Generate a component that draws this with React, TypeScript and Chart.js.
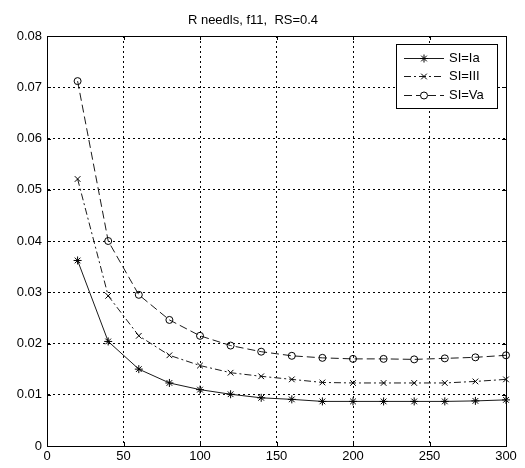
import React, { useEffect, useRef } from "react";
import { Chart, registerables } from "chart.js";
import { drawPoint } from "chart.js/helpers";

Chart.register(...registerables);

const xValues = [20, 40, 60, 80, 100, 120, 140, 160, 180, 200, 220, 240, 260, 280, 300];
const seriesIa = [0.0362, 0.0204, 0.0150, 0.0123, 0.0110, 0.0101, 0.0094, 0.0091, 0.0087, 0.0087, 0.0087, 0.0087, 0.0087, 0.0088, 0.0090];
const seriesIII = [0.0521, 0.0293, 0.0215, 0.0177, 0.0157, 0.0143, 0.0136, 0.0130, 0.0124, 0.0123, 0.0123, 0.0123, 0.0123, 0.0126, 0.0130];
const seriesVa = [0.0712, 0.0400, 0.0295, 0.0246, 0.0215, 0.0196, 0.0184, 0.0176, 0.0172, 0.0170, 0.0170, 0.0169, 0.0171, 0.0173, 0.0177];
const seriesNames = ["SI=Ia", "SI=III", "SI=Va"];
const titleText = "R needls, f11,  RS=0.4";

const FONT = "'Liberation Sans', Arial, Helvetica, sans-serif";

const boxPlugin = {
  id: "boxPlugin",
  afterDatasetsDraw(chart: any) {
    const { ctx, chartArea } = chart;
    const { left, right, top, bottom } = chartArea;
    ctx.save();
    ctx.strokeStyle = "#000";
    ctx.lineWidth = 1;
    ctx.setLineDash([]);
    ctx.strokeRect(Math.round(left) + 0.5, Math.round(top) + 0.5, Math.round(right - left), Math.round(bottom - top));
    const xs = chart.scales.x;
    const ys = chart.scales.y;
    const tl = 4;
    ctx.beginPath();
    xs.ticks.forEach((t: any) => {
      const px = Math.round(xs.getPixelForValue(t.value)) + 0.5;
      ctx.moveTo(px, bottom);
      ctx.lineTo(px, bottom - tl);
      ctx.moveTo(px, top);
      ctx.lineTo(px, top + tl);
    });
    ys.ticks.forEach((t: any) => {
      const py = Math.round(ys.getPixelForValue(t.value)) + 0.5;
      ctx.moveTo(left, py);
      ctx.lineTo(left + tl, py);
      ctx.moveTo(right, py);
      ctx.lineTo(right - tl, py);
    });
    ctx.stroke();
    ctx.restore();
  },
};

const legendPlugin = {
  id: "matLegend",
  afterDraw(chart: any) {
    const { ctx } = chart;
    const bx = 396.5, by = 44.5, bw = 101, bh = 64;
    ctx.save();
    ctx.fillStyle = "#fff";
    ctx.fillRect(bx, by, bw, bh);
    ctx.strokeStyle = "#000";
    ctx.lineWidth = 1;
    ctx.setLineDash([]);
    ctx.strokeRect(bx, by, bw, bh);
    chart.data.datasets.forEach((ds: any, i: number) => {
      const y = Math.round(by + 13 + i * 18.5) + 0.5;
      ctx.strokeStyle = ds.borderColor;
      ctx.lineWidth = ds.borderWidth;
      ctx.setLineDash(ds.borderDash || []);
      ctx.beginPath();
      ctx.moveTo(404, y);
      ctx.lineTo(444, y);
      ctx.stroke();
      ctx.setLineDash([]);
      ctx.fillStyle = "#fff";
      ctx.strokeStyle = "#000";
      ctx.lineWidth = 1;
      drawPoint(ctx, { pointStyle: ds.pointStyle, radius: ds.pointRadius, borderWidth: 1, rotation: 0 } as any, 424, y);
      ctx.fillStyle = "#000";
      ctx.font = `13px ${FONT}`;
      ctx.textBaseline = "middle";
      ctx.textAlign = "left";
      ctx.fillText(ds.label, 449, y);
    });
    ctx.restore();
  },
};

export default function App() {
  const canvasRef = useRef<HTMLCanvasElement | null>(null);

  useEffect(() => {
    document.body.style.margin = "0";
    const canvas = canvasRef.current;
    if (!canvas) return;
    const mk = (arr: number[]) => xValues.map((x, i) => ({ x, y: arr[i] }));
    const common = {
      borderColor: "#1a1a1a",
      borderWidth: 1,
      tension: 0,
      fill: false,
      clip: false as any,
      pointBorderWidth: 1,
      pointBorderColor: "#000",
      pointBackgroundColor: "rgba(255,255,255,0)",
    };
    const chart = new Chart(canvas, {
      type: "line",
      data: {
        datasets: [
          { ...common, label: seriesNames[0], data: mk(seriesIa), pointStyle: "star", pointRadius: 4, borderDash: [] },
          { ...common, label: seriesNames[1], data: mk(seriesIII), pointStyle: "crossRot", pointRadius: 4, borderDash: [7, 3, 2, 3] },
          { ...common, label: seriesNames[2], data: mk(seriesVa), pointStyle: "circle", pointRadius: 3.5, borderDash: [8, 4] },
        ] as any,
      },
      options: {
        responsive: false,
        animation: false,
        layout: { padding: { left: 0, right: 19, top: 0, bottom: 0 } },
        plugins: {
          legend: { display: false },
          tooltip: { enabled: false },
          title: {
            display: true,
            text: titleText,
            color: "#000",
            font: { family: FONT, size: 13, weight: "normal" as any },
            padding: { top: 12.4, bottom: 8 },
          },
        },
        scales: {
          x: {
            type: "linear",
            min: 0,
            max: 300,
            ticks: { stepSize: 50, color: "#000", font: { family: FONT, size: 13 }, padding: 3, maxRotation: 0 },
            grid: { color: "#000", tickLength: 0, lineWidth: 1 },
            border: { display: true, color: "#000", dash: [2, 3] } as any,
            afterFit(scale: any) { scale.height = 22; },
          },
          y: {
            min: 0,
            max: 0.08,
            ticks: {
              stepSize: 0.01,
              color: "#000",
              font: { family: FONT, size: 13 },
              padding: 5,
              callback: (v: any) => (Number(v) === 0 ? "0" : Number(v).toFixed(2)),
            },
            grid: { color: "#000", tickLength: 0, lineWidth: 1 },
            border: { display: true, color: "#000", dash: [2, 3] } as any,
            afterFit(scale: any) { scale.width = 47; },
          },
        },
      } as any,
      plugins: [boxPlugin, legendPlugin],
    });
    return () => chart.destroy();
  }, []);

  return <canvas ref={canvasRef} width={525} height={468} style={{ display: "block" }} />;
}
